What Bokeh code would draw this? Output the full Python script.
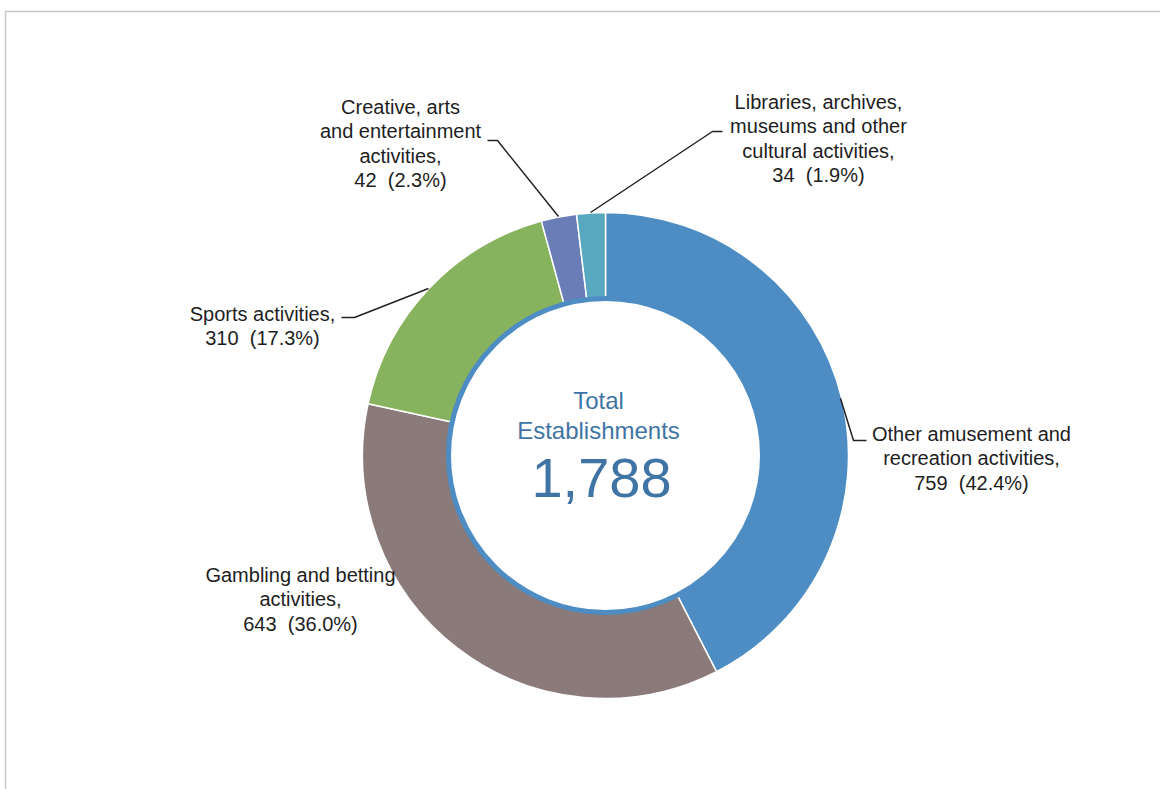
import math
from bokeh.plotting import figure
from bokeh.models import Range1d, ColumnDataSource
from bokeh.core.properties import value
from bokeh.embed import file_html
from bokeh.resources import INLINE

# ---- data ----
categories = [
    "Other amusement and recreation activities",
    "Gambling and betting activities",
    "Sports activities",
    "Creative, arts and entertainment activities",
    "Libraries, archives, museums and other cultural activities",
]
counts = [759, 643, 310, 42, 34]
label_lines = [
    ["Other amusement and", "recreation activities,"],
    ["Gambling and betting", "activities,"],
    ["Sports activities,"],
    ["Creative, arts", "and entertainment", "activities,"],
    ["Libraries, archives,", "museums and other", "cultural activities,"],
]
colors = ["#4e8dc3", "#8a7a79", "#88b35e", "#6a7db6", "#58a9c0"]
center_title = ["Total", "Establishments"]

total = sum(counts)

W, H = 1160, 789
def Y(py):
    return H - py

p = figure(width=W, height=H, x_range=Range1d(0, W), y_range=Range1d(0, H),
           output_backend="svg", toolbar_location=None, min_border=0)
p.axis.visible = False
p.grid.visible = False
p.outline_line_color = None
p.background_fill_color = "white"
p.border_fill_color = "white"

# frame
p.line([5, 5, W], [0, Y(11), Y(11)], line_color="#c8c8c8", line_width=1.5)

cx, cy = 605, Y(455)
r_in, r_out = 155, 243

starts, ends = [], []
acc = 0
for v in counts:
    s = math.pi / 2 - acc / total * 2 * math.pi
    acc += v
    e = math.pi / 2 - acc / total * 2 * math.pi
    starts.append(s)
    ends.append(e)

src = ColumnDataSource(dict(start=starts, end=ends, color=colors))
p.annular_wedge(x=cx, y=cy, inner_radius=r_in, outer_radius=r_out,
                start_angle="start", end_angle="end", direction="clock",
                fill_color="color", line_color="white", line_width=1.5, source=src)
p.circle(x=[cx], y=[cy], radius=157, fill_color="white", line_color="#4e8dc3", line_width=5)

font = value("Liberation Sans")

# leader lines
leaders = [
    [(840, 398), (853, 440), (866, 440)],          # other
    None,                                          # gambling
    [(428, 288), (354, 317), (341, 317)],          # sports
    [(558, 216), (497, 140), (487, 140)],          # creative
    [(590, 212), (712, 131), (722, 131)],          # libraries
]
for pts in leaders:
    if pts:
        p.line([a for a, b in pts], [Y(b) for a, b in pts], line_color="#222222", line_width=1.5)

# label anchors: (x center, y of first line)
anchors = [
    (971, 433),
    (300, 574),
    (262, 313),
    (400, 106),
    (818, 101),
]
lh = 24.5
xs, ys, txt = [], [], []
for i, (ax, ay) in enumerate(anchors):
    lines = label_lines[i] + [f"{counts[i]:,}\u00a0 ({counts[i] / total * 100:.1f}%)"]
    for j, ln in enumerate(lines):
        xs.append(ax)
        ys.append(Y(ay + j * lh))
        txt.append(ln)
p.text(x=xs, y=ys, text=txt, text_font=font, text_font_size="20px",
       text_color="#1e1e1e", text_align="center", text_baseline="middle")

# center
p.text(x=[598, 598], y=[Y(400), Y(430)], text=center_title, text_font=font,
       text_font_size="24px", text_color="#3f74a4", text_align="center", text_baseline="middle")
p.text(x=[601], y=[Y(477)], text=[f"{total:,}"], text_font=font,
       text_font_size="56px", text_color="#3f74a4", text_align="center", text_baseline="middle")

open("out.html", "w").write(file_html(p, INLINE))
